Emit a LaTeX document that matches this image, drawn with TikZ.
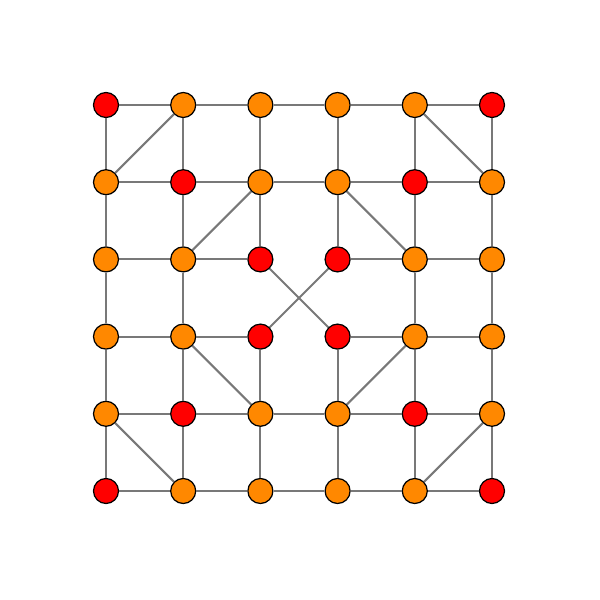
\documentclass[tikz,border=0pt]{standalone}
\usepackage{tikz}
\usetikzlibrary{arrows}
\definecolor{nodeorange}{RGB}{255,136,0}
\definecolor{nodered}{RGB}{255,0,0}
\definecolor{edgegray}{RGB}{120,120,120}
\begin{document}
\begin{tikzpicture}
[-,x=0.772cm,y=-0.772cm,line width=0.6pt,
  main node/.style={circle,fill=nodeorange,draw=black,line width=0.35pt,inner sep=0pt,minimum size=0.25cm},
  red node/.style={main node,fill=nodered}]
  \useasboundingbox (-1.373,-1.36) rectangle (6.399,6.412);
  % row 0
  \node[red node] (00) at (0,0) {};
  \node[main node] (01) at (1,0) {};
  \node[main node] (02) at (2,0) {};
  \node[main node] (03) at (3,0) {};
  \node[main node] (04) at (4,0) {};
  \node[red node] (05) at (5,0) {};
  % row 1
  \node[main node] (10) at (0,1) {};
  \node[red node] (11) at (1,1) {};
  \node[main node] (12) at (2,1) {};
  \node[main node] (13) at (3,1) {};
  \node[red node] (14) at (4,1) {};
  \node[main node] (15) at (5,1) {};
  % row 2
  \node[main node] (20) at (0,2) {};
  \node[main node] (21) at (1,2) {};
  \node[red node] (22) at (2,2) {};
  \node[red node] (23) at (3,2) {};
  \node[main node] (24) at (4,2) {};
  \node[main node] (25) at (5,2) {};
  % row 3
  \node[main node] (30) at (0,3) {};
  \node[main node] (31) at (1,3) {};
  \node[red node] (32) at (2,3) {};
  \node[red node] (33) at (3,3) {};
  \node[main node] (34) at (4,3) {};
  \node[main node] (35) at (5,3) {};
  % row 4
  \node[main node] (40) at (0,4) {};
  \node[red node] (41) at (1,4) {};
  \node[main node] (42) at (2,4) {};
  \node[main node] (43) at (3,4) {};
  \node[red node] (44) at (4,4) {};
  \node[main node] (45) at (5,4) {};
  % row 5
  \node[red node] (50) at (0,5) {};
  \node[main node] (51) at (1,5) {};
  \node[main node] (52) at (2,5) {};
  \node[main node] (53) at (3,5) {};
  \node[main node] (54) at (4,5) {};
  \node[red node] (55) at (5,5) {};
  \path[draw=edgegray]
    % horizontal
    (00) edge (01) (01) edge (02) (02) edge (03) (03) edge (04) (04) edge (05)
    (10) edge (11) (11) edge (12) (12) edge (13) (13) edge (14) (14) edge (15)
    (20) edge (21) (21) edge (22) (23) edge (24) (24) edge (25)
    (30) edge (31) (31) edge (32) (33) edge (34) (34) edge (35)
    (40) edge (41) (41) edge (42) (42) edge (43) (43) edge (44) (44) edge (45)
    (50) edge (51) (51) edge (52) (52) edge (53) (53) edge (54) (54) edge (55)
    % vertical
    (00) edge (10) (10) edge (20) (20) edge (30) (30) edge (40) (40) edge (50)
    (01) edge (11) (11) edge (21) (21) edge (31) (31) edge (41) (41) edge (51)
    (02) edge (12) (12) edge (22) (32) edge (42) (42) edge (52)
    (03) edge (13) (13) edge (23) (33) edge (43) (43) edge (53)
    (04) edge (14) (14) edge (24) (24) edge (34) (34) edge (44) (44) edge (54)
    (05) edge (15) (15) edge (25) (25) edge (35) (35) edge (45) (45) edge (55)
    % diagonal
    (01) edge (10) (12) edge (21) (04) edge (15) (13) edge (24)
    (22) edge (33) (23) edge (32)
    (31) edge (42) (40) edge (51) (34) edge (43) (45) edge (54);
\end{tikzpicture}
\end{document}
